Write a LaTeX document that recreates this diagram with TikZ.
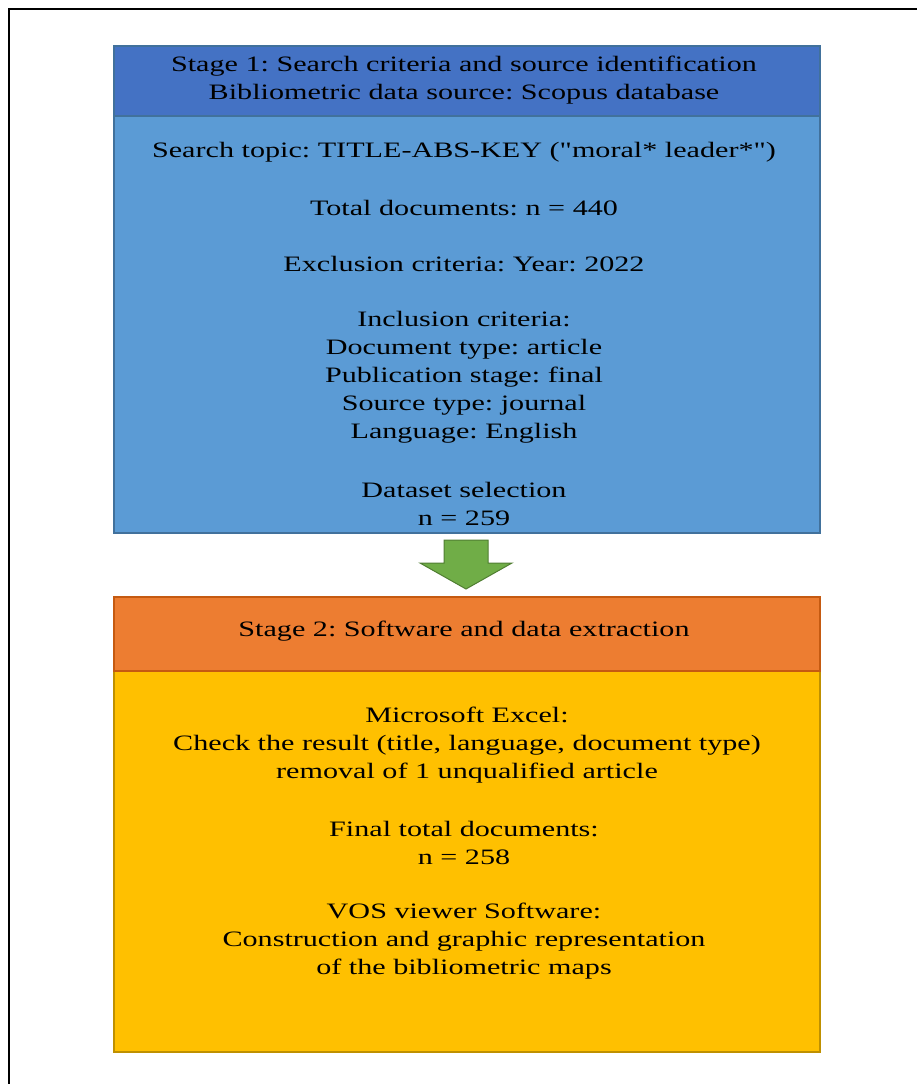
\documentclass[tikz,border=0pt]{standalone}
\usepackage{fontspec}
\setmainfont[FakeStretch=1.37, Ligatures=TeXOff]{Liberation Serif}
\frenchspacing
\definecolor{hdrA}{HTML}{4472C4}
\definecolor{bodyA}{HTML}{5B9BD5}
\definecolor{lineA}{HTML}{41719C}
\definecolor{hdrB}{HTML}{ED7D31}
\definecolor{lineB}{HTML}{C55A11}
\definecolor{bodyB}{HTML}{FFC000}
\definecolor{lineC}{HTML}{BF9000}
\definecolor{arrowfill}{HTML}{70AD47}
\definecolor{arrowline}{HTML}{507E32}
\begin{document}
\begin{tikzpicture}[x=1pt,y=-1pt,
  txt/.style={font=\fontsize{22}{28}\selectfont, align=center, inner sep=0pt, text=black},
  panel/.style={line width=1.5pt}]
\useasboundingbox (0,0) rectangle (916,1084);
\draw[line width=2pt] (9,9) rectangle (930,1100);
% Stage 1
\path[panel, fill=bodyA, draw=lineA] (114,116) rectangle (820,533);
\path[panel, fill=hdrA, draw=lineA] (114,46) rectangle (820,116);
\node[txt] (h1) at (464,80) {Stage 1: Search criteria and source identification\\Bibliometric data source: Scopus database};
\node[txt] (t1) at (464,152) {Search topic: TITLE-ABS-KEY ("moral* leader*")};
\node[txt] (t2) at (464,208) {Total documents: n = 440};
\node[txt] (t3) at (464,264) {Exclusion criteria: Year: 2022};
\node[txt] (t4) at (464,377) {Inclusion criteria:\\Document type: article\\Publication stage: final\\Source type: journal\\Language: English};
\node[txt] (t5) at (464,504) {Dataset selection\\n = 259};
% Arrow
\draw[arrowline, fill=arrowfill, line width=1pt, line join=miter]
  (444,540) -- (488,540) -- (488,563) -- (512,563) -- (466,589) -- (420,563) -- (444,563) -- cycle;
% Stage 2
\path[panel, fill=bodyB, draw=lineC] (114,671) rectangle (820,1052);
\path[panel, fill=hdrB, draw=lineB] (114,597) rectangle (820,671);
\node[txt] (h2) at (464,631) {Stage 2: Software and data extraction};
\node[txt] (s1) at (467,745) {Microsoft Excel:\\Check the result (title, language, document type)\\removal of 1 unqualified article};
\node[txt] (s2) at (464,843) {Final total documents:\\n = 258};
\node[txt] (s3) at (464,941) {VOS viewer Software:\\Construction and graphic representation\\of the bibliometric maps};
\end{tikzpicture}
\end{document}
